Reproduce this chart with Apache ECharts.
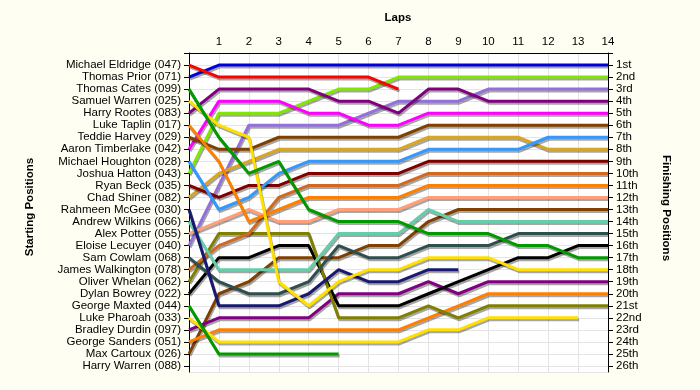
<!DOCTYPE html>
<html>
<head>
<meta charset="utf-8">
<script src="https://cdn.jsdelivr.net/npm/echarts@6/dist/echarts.min.js"></script>
<style>
html,body{margin:0;padding:0;background:#FEFEF2;}
#chart{width:700px;height:390px;}
</style>
</head>
<body>
<div id="chart"></div>
<script>
// ---- data ----
const startingNames = [
  'Michael Eldridge (047)','Thomas Prior (071)','Thomas Cates (099)','Samuel Warren (025)',
  'Harry Rootes (083)','Luke Taplin (017)','Teddie Harvey (029)','Aaron Timberlake (042)',
  'Michael Houghton (028)','Joshua Hatton (043)','Ryan Beck (035)','Chad Shiner (082)',
  'Rahmeen McGee (030)','Andrew Wilkins (066)','Alex Potter (055)','Eloise Lecuyer (040)',
  'Sam Cowlam (068)','James Walkington (078)','Oliver Whelan (062)','Dylan Bowrey (022)',
  'George Maxted (044)','Luke Pharoah (033)','Bradley Durdin (097)','George Sanders (051)',
  'Max Cartoux (026)','Harry Warren (088)'
];
const finishLabels = ['1st','2nd','3rd','4th','5th','6th','7th','8th','9th','10th','11th','12th','13th',
  '14th','15th','16th','17th','18th','19th','20th','21st','22nd','23rd','24th','25th','26th'];
const lapTicks = [0,1,2,3,4,5,6,7,8,9,10,11,12,13,14];

// positions per lap (index = lap, starting at lap 0)
const michaelEldridge = [1,2,2,2,2,2,2,3];
const thomasPrior     = [2,1,1,1,1,1,1,1,1,1,1,1,1,1,1];
const thomasCates     = [3,7,10,9,13,14,14,14,15,15,15,16,16,17,17];
const samuelWarren    = [4,6,7,19,21,19,18,18,17,17,17,18,18,18,18];
const harryRootes     = [5,3,3,3,3,4,4,5,3,3,4,4,4,4,4];
const lukeTaplin      = [6,9,14,13,12,12,12,12,11,11,11,11,11,11,11];
const teddieHarvey    = [7,8,8,7,7,7,7,7,6,6,6,6,6,6,6];
const aaronTimberlake = [8,4,4,4,5,5,6,6,5,5,5,5,5,5,5];
const michaelHoughton = [9,13,12,10,9,9,9,9,8,8,8,8,7,7,7];
const joshuaHatton    = [10,5,5,5,4,3,3,2,2,2,2,2,2,2,2];
const ryanBeck        = [11,12,11,11,10,10,10,10,9,9,9,9,9,9,9];
const chadShiner      = [12,10,9,8,8,8,8,8,7,7,7,7,8,8,8];
const rahmeenMcGee    = [13,21,21,21,20,18,19,19,18,18];
const andrewWilkins   = [14,18,18,18,18,15,15,15,13,14,14,14,14,14,14];
const alexPotter      = [15,14,13,14,14,13,13,13,12,12,12,12,12,12,12];
const eloiseLecuyer   = [16,11,6,6,6,6,5,4,4,4,3,3,3,3,3];
const samCowlam       = [17,19,20,20,19,16,17,17,16,16,16,15,15,15,15];
const jamesWalkington = [18,16,15,12,11,11,11,11,10,10,10,10,10,10,10];
const oliverWhelan    = [19,15,15,15,15,22,22,22,21,22,21,21,21,21,21];
const dylanBowrey     = [20,17,17,16,16,21,21,21,20,19,18,17,17,16,16];
const georgeMaxted    = [21,25,25,25,25,25];
const lukePharoah     = [22,24,24,24,24,24,24,24,23,23,22,22,22,22];
const bradleyDurdin   = [23,22,22,22,22,20,20,20,19,20,19,19,19,19,19];
const georgeSanders   = [24,23,23,23,23,23,23,23,22,21,20,20,20,20,20];
const maxCartoux      = [25,20,19,17,17,17,16,16,14,13,13,13,13,13,13];
const harryWarren     = [];

const driverData = [michaelEldridge,thomasPrior,thomasCates,samuelWarren,harryRootes,lukeTaplin,
  teddieHarvey,aaronTimberlake,michaelHoughton,joshuaHatton,ryanBeck,chadShiner,rahmeenMcGee,
  andrewWilkins,alexPotter,eloiseLecuyer,samCowlam,jamesWalkington,oliverWhelan,dylanBowrey,
  georgeMaxted,lukePharoah,bradleyDurdin,georgeSanders,maxCartoux,harryWarren];

// ---- styles ----
const driverColors = ['#FF0000','#0000DD','#009900','#FFE000','#800080','#FF8000',
  '#804000','#FF00FF','#3399FF','#80E800','#800000','#DAA520','#191970',
  '#66CDAA','#FFA07A','#9370DB','#2F4F4F','#D2691E','#808000','#000000',
  '#009900','#FFE000','#800080','#FF8000','#804000','#999999'];

const FONT = '"Liberation Sans", Arial, sans-serif';
const FS = 11.5;

const series = driverData.map((arr, i) => ({
  name: startingNames[i],
  type: 'line',
  data: arr.map((v, lap) => [lapTicks[lap], v]),
  symbol: 'none',
  showSymbol: false,
  smooth: false,
  lineStyle: {
    width: 3,
    color: driverColors[i],
    shadowColor: 'rgba(0,0,0,0.35)',
    shadowOffsetX: 1,
    shadowOffsetY: 2,
    shadowBlur: 0
  },
  itemStyle: { color: driverColors[i] },
  z: 10 + (driverData.length - i)
}));

const chart = echarts.init(document.getElementById('chart'), null, {renderer: 'canvas'});
chart.setOption({
  animation: false,
  backgroundColor: '#FEFEF2',
  textStyle: { fontFamily: FONT },
  grid: {
    left: 189, right: 92, top: 53, bottom: 18,
    show: true, backgroundColor: '#FFFFFF', borderWidth: 0
  },
  graphic: [
    { type: 'text', x: 398, y: 18, style: { text: 'Laps', font: 'bold 11.5px ' + FONT, fill: '#000', align: 'center', verticalAlign: 'middle' } },
    { type: 'text', x: 30, y: 207, rotation: Math.PI / 2, style: { text: 'Starting Positions', font: 'bold 11.5px ' + FONT, fill: '#000', align: 'center', verticalAlign: 'middle' } },
    { type: 'text', x: 666, y: 208, rotation: -Math.PI / 2, style: { text: 'Finishing Positions', font: 'bold 11.5px ' + FONT, fill: '#000', align: 'center', verticalAlign: 'middle' } }
  ],
  xAxis: {
    type: 'value', position: 'top', min: 0, max: 14, interval: 1,
    axisLine: { show: true, lineStyle: { color: '#000', width: 1 } },
    axisTick: { show: false },
    axisLabel: { margin: 5, fontSize: FS, color: '#000', fontFamily: FONT,
      formatter: v => (v === 0 ? '' : String(lapTicks[v])) },
    splitLine: { show: true, lineStyle: { color: '#E4E4E4', width: 1 } }
  },
  yAxis: [
    {
      type: 'value', inverse: true, position: 'left', min: 0, max: 26.5, interval: 1,
      axisLine: { show: true, lineStyle: { color: '#000', width: 1 } },
      axisTick: { show: true, inside: false, length: 5, lineStyle: { color: '#000' } },
      axisLabel: { margin: 8, fontSize: FS, color: '#000', fontFamily: FONT, showMaxLabel: false,
        formatter: v => (v >= 1 && v <= 26 && Number.isInteger(v) ? startingNames[v - 1] : '') },
      splitLine: { show: true, lineStyle: { color: '#E4E4E4', width: 1 } }
    },
    {
      type: 'value', inverse: true, position: 'right', min: 0, max: 26.5, interval: 1,
      axisLine: { show: true, lineStyle: { color: '#000', width: 1 } },
      axisTick: { show: true, inside: false, length: 5, lineStyle: { color: '#000' } },
      axisLabel: { margin: 8, fontSize: FS, color: '#000', fontFamily: FONT, showMaxLabel: false,
        formatter: v => (v >= 1 && v <= 26 && Number.isInteger(v) ? finishLabels[v - 1] : '') },
      splitLine: { show: false }
    }
  ],
  series: series
});
</script>
</body>
</html>
